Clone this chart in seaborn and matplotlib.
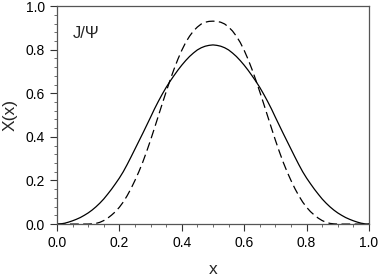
import numpy as np
import pandas as pd
import seaborn as sns
import matplotlib
matplotlib.use("Agg")
import matplotlib.pyplot as plt
from matplotlib.ticker import MultipleLocator

# --- values (curves are symmetric about x = 0.5) ---
x_half = [0.0, 0.0125, 0.025, 0.0375, 0.05, 0.0625, 0.075, 0.0875, 0.1, 0.1125,
          0.125, 0.1375, 0.15, 0.1625, 0.175, 0.1875, 0.2, 0.2125, 0.225, 0.2375,
          0.25, 0.2625, 0.275, 0.2875, 0.3, 0.3125, 0.325, 0.3375, 0.35, 0.3625,
          0.375, 0.3875, 0.4, 0.4125, 0.425, 0.4375, 0.45, 0.4625, 0.475, 0.4875, 0.5]
solid_half = [0.0, 0.001, 0.004, 0.009, 0.015, 0.022, 0.03, 0.04, 0.051, 0.064,
              0.079, 0.096, 0.115, 0.137, 0.16, 0.185, 0.211, 0.24, 0.273, 0.308,
              0.344, 0.38, 0.416, 0.453, 0.49, 0.528, 0.563, 0.596, 0.627, 0.655,
              0.681, 0.706, 0.729, 0.75, 0.769, 0.785, 0.799, 0.809, 0.816, 0.82, 0.822]
dashed_half = [0.0, 0.0, 0.0, 0.0, 0.0, 0.0, 0.0, 0.0, 0.0, 0.001,
               0.003, 0.008, 0.016, 0.027, 0.041, 0.057, 0.077, 0.101, 0.13, 0.163,
               0.2, 0.24, 0.284, 0.333, 0.385, 0.44, 0.496, 0.552, 0.607, 0.66,
               0.71, 0.756, 0.797, 0.833, 0.862, 0.886, 0.904, 0.918, 0.926, 0.93, 0.931]

x_vals = x_half + [round(1 - v, 4) for v in x_half[-2::-1]]
solid_vals = solid_half + solid_half[-2::-1]
dashed_vals = dashed_half + dashed_half[-2::-1]

x_ticks = [0.0, 0.2, 0.4, 0.6, 0.8, 1.0]
y_ticks = [0.0, 0.2, 0.4, 0.6, 0.8, 1.0]

df = pd.DataFrame({"x": x_vals, "solid": solid_vals, "dashed": dashed_vals})

sns.set_theme(style="ticks")
plt.rcParams["font.family"] = ["Liberation Sans", "DejaVu Sans"]

fig = plt.figure(figsize=(3.82, 2.78), dpi=100)
ax = fig.add_axes([0.149, 0.194, 0.817, 0.784])

sns.lineplot(data=df, x="x", y="solid", ax=ax, color="black", lw=0.9)
sns.lineplot(data=df, x="x", y="dashed", ax=ax, color="black", lw=0.9,
             linestyle=(0, (7, 3.5)))

ax.set_xlim(0, 1)
ax.set_ylim(0, 1)
ax.set_xticks(x_ticks)
ax.set_yticks(y_ticks)
ax.set_xticklabels([f"{t:.1f}" for t in x_ticks])
ax.set_yticklabels([f"{t:.1f}" for t in y_ticks])
ax.xaxis.set_minor_locator(MultipleLocator(0.05))
ax.yaxis.set_minor_locator(MultipleLocator(0.04))
ax.tick_params(which="major", direction="out", length=5, width=0.8,
               labelsize=10, colors="#333333", top=False, right=False)
ax.tick_params(which="minor", direction="out", length=2.5, width=0.6,
               colors="#555555", top=False, right=False)
ax.tick_params(labelcolor="black")

for side in ["top", "right", "left", "bottom"]:
    ax.spines[side].set_visible(True)
    ax.spines[side].set_color("#555555")
    ax.spines[side].set_linewidth(0.9)

ax.set_xlabel("x", fontsize=12.5, labelpad=9)
ax.set_ylabel("X(x)", fontsize=12.5, labelpad=6)
ax.text(0.05, 0.875, "J/Ψ", fontsize=12, va="center", ha="left",
        transform=ax.transData)

fig.savefig("out.png", dpi=100)
